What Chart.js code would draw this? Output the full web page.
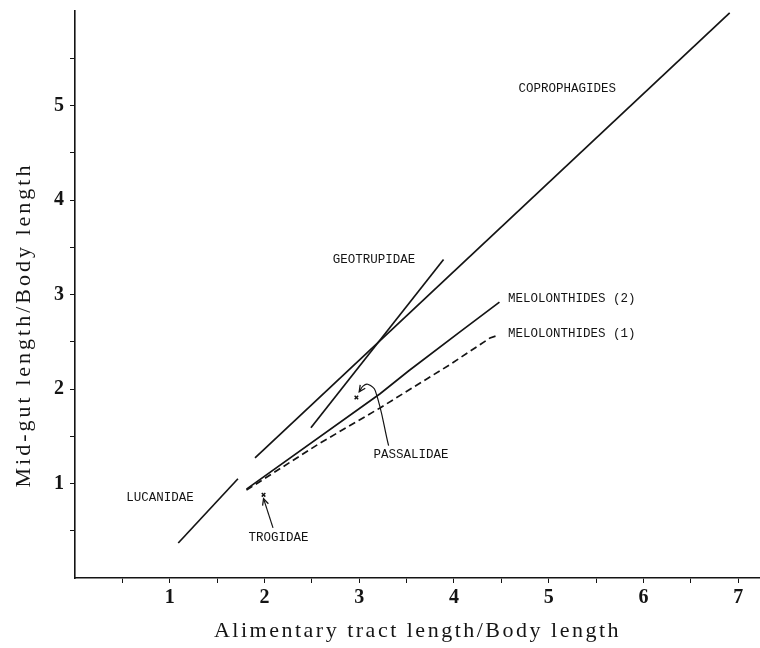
<!DOCTYPE html>
<html>
<head>
<meta charset="utf-8">
<script src="https://cdn.jsdelivr.net/npm/chart.js@4.4.1/dist/chart.umd.min.js"></script>
<style>
  html, body { margin: 0; padding: 0; background: #fff; }
  #wrap { width: 760px; height: 648px; }
</style>
</head>
<body>
<div id="wrap"><canvas id="gutChart"></canvas></div>
<script>
// values: x = alimentary tract / body length, y = mid-gut / body length
const coproX = [1.90, 6.91];
const coproY = [1.27, 5.98];
const geoX = [2.49, 3.89];
const geoY = [1.59, 3.37];
const mel2X = [1.81, 3.22, 3.52, 4.07, 4.48];
const mel2Y = [0.94, 1.95, 2.19, 2.61, 2.92];
const mel1X = [1.81, 2.59, 3.22, 3.96, 4.38, 4.47];
const mel1Y = [0.93, 1.43, 1.80, 2.26, 2.54, 2.57];
const lucX = [1.09, 1.72];
const lucY = [0.37, 1.05];
const markX = [1.99, 2.97];   // trogidae, passalidae
const markY = [0.88, 1.91];

// pointer arrows (last point = arrow tip)
const trogArrowX = [2.09, 1.99];
const trogArrowY = [0.53, 0.84];
const passArrowX = [3.31, 3.17, 3.09, 3.04, 3.00];
const passArrowY = [1.40, 1.98, 2.05, 2.03, 1.97];

// group names and where they are written (left end, middle of text)
const labelText = ['COPROPHAGIDES', 'GEOTRUPIDAE', 'MELOLONTHIDES (2)', 'MELOLONTHIDES (1)', 'PASSALIDAE', 'LUCANIDAE', 'TROGIDAE'];
const labelX = [4.68, 2.72, 4.57, 4.57, 3.15, 0.54, 1.83];
const labelY = [5.18, 3.37, 2.96, 2.59, 1.30, 0.85, 0.43];

const xTicks = [0.5, 1, 1.5, 2, 2.5, 3, 3.5, 4, 4.5, 5, 5.5, 6, 6.5, 7];
const yTicks = [0.5, 1, 1.5, 2, 2.5, 3, 3.5, 4, 4.5, 5, 5.5];
const xTitle = 'Alimentary tract length/Body length';
const yTitle = 'Mid-gut length/Body length';

const ink = '#141414';

function pts(xs, ys) {
  return xs.map((x, i) => ({ x: x, y: ys[i] }));
}

function lineSet(xs, ys, extra) {
  return Object.assign({
    data: pts(xs, ys),
    showLine: true,
    borderColor: ink,
    borderWidth: 1.7,
    pointRadius: 0,
    fill: false,
    tension: 0
  }, extra || {});
}

// no extra room for edge tick labels, the axes sit where the figure has them
function noEdgePadding(s) {
  s.paddingTop = 0;
  s.paddingBottom = 0;
  s.paddingLeft = 0;
  s.paddingRight = 0;
}

const notes = {
  id: 'notes',
  afterDatasetsDraw(chart) {
    const ctx = chart.ctx;
    const sx = chart.scales.x, sy = chart.scales.y;
    ctx.save();
    ctx.fillStyle = ink;
    ctx.strokeStyle = ink;

    // group names
    ctx.font = '12.5px "Liberation Mono", monospace';
    ctx.textAlign = 'left';
    ctx.textBaseline = 'middle';
    for (let i = 0; i < labelText.length; i++) {
      ctx.fillText(labelText[i], sx.getPixelForValue(labelX[i]), sy.getPixelForValue(labelY[i]));
    }

    // arrow heads
    [[trogArrowX, trogArrowY], [passArrowX, passArrowY]].forEach(function (a) {
      const n = a[0].length;
      const x0 = sx.getPixelForValue(a[0][n - 2]), y0 = sy.getPixelForValue(a[1][n - 2]);
      const x1 = sx.getPixelForValue(a[0][n - 1]), y1 = sy.getPixelForValue(a[1][n - 1]);
      const ang = Math.atan2(y1 - y0, x1 - x0);
      ctx.lineWidth = 1.3;
      ctx.beginPath();
      ctx.moveTo(x1 - 7 * Math.cos(ang - 0.45), y1 - 7 * Math.sin(ang - 0.45));
      ctx.lineTo(x1, y1);
      ctx.lineTo(x1 - 7 * Math.cos(ang + 0.45), y1 - 7 * Math.sin(ang + 0.45));
      ctx.stroke();
    });

    // axis titles
    ctx.font = '22px "Liberation Serif", serif';
    ctx.textAlign = 'center';
    ctx.textBaseline = 'alphabetic';
    ctx.letterSpacing = '2.5px';
    ctx.fillText(xTitle, (sx.left + sx.right) / 2, chart.height - 11);
    ctx.translate(30, 325);
    ctx.rotate(-Math.PI / 2);
    ctx.letterSpacing = '3px';
    ctx.fillText(yTitle, 0, 0);
    ctx.restore();
  }
};

const tickFont = { family: '"Liberation Serif", "DejaVu Serif", serif', size: 20, weight: 'bold' };

const config = {
  type: 'scatter',
  data: {
    datasets: [
      lineSet(coproX, coproY),
      lineSet(geoX, geoY),
      lineSet(mel2X, mel2Y),
      lineSet(mel1X, mel1Y, { borderDash: [7, 4] }),
      lineSet(lucX, lucY),
      lineSet(trogArrowX, trogArrowY, { borderWidth: 1.2 }),
      lineSet(passArrowX, passArrowY, { borderWidth: 1.2, tension: 0.4 }),
      {
        data: pts(markX, markY),
        showLine: false,
        pointStyle: 'crossRot',
        pointRadius: 2.5,
        pointBorderWidth: 1.5,
        borderColor: ink,
        backgroundColor: ink
      }
    ]
  },
  options: {
    responsive: true,
    maintainAspectRatio: false,
    animation: false,
    layout: { autoPadding: false, padding: { top: 11, right: 0, left: 0, bottom: 0 } },
    plugins: {
      legend: { display: false },
      tooltip: { enabled: false }
    },
    scales: {
      x: {
        type: 'linear',
        min: 0,
        max: 7.23,
        afterBuildTicks: function (s) { s.ticks = xTicks.map(v => ({ value: v })); },
        afterFit: function (s) { s.height = 70; noEdgePadding(s); },
        ticks: {
          autoSkip: false,
          maxRotation: 0,
          padding: 3,
          color: ink,
          font: tickFont,
          callback: v => Number.isInteger(v) ? String(v) : ''
        },
        grid: { drawOnChartArea: false, drawTicks: true, tickLength: 5, color: ink, lineWidth: 1 },
        border: { display: true, color: ink, width: 1.6 }
      },
      y: {
        type: 'linear',
        min: 0,
        max: 6,
        afterBuildTicks: function (s) { s.ticks = yTicks.map(v => ({ value: v })); },
        afterFit: function (s) { s.width = 75; noEdgePadding(s); },
        ticks: {
          autoSkip: false,
          padding: 6,
          color: ink,
          font: tickFont,
          callback: v => Number.isInteger(v) ? String(v) : ''
        },
        grid: { drawOnChartArea: false, drawTicks: true, tickLength: 5, color: ink, lineWidth: 1 },
        border: { display: true, color: ink, width: 1.6 }
      }
    }
  },
  plugins: [notes]
};

const gutChart = new Chart(document.getElementById('gutChart'), config);
</script>
</body>
</html>
